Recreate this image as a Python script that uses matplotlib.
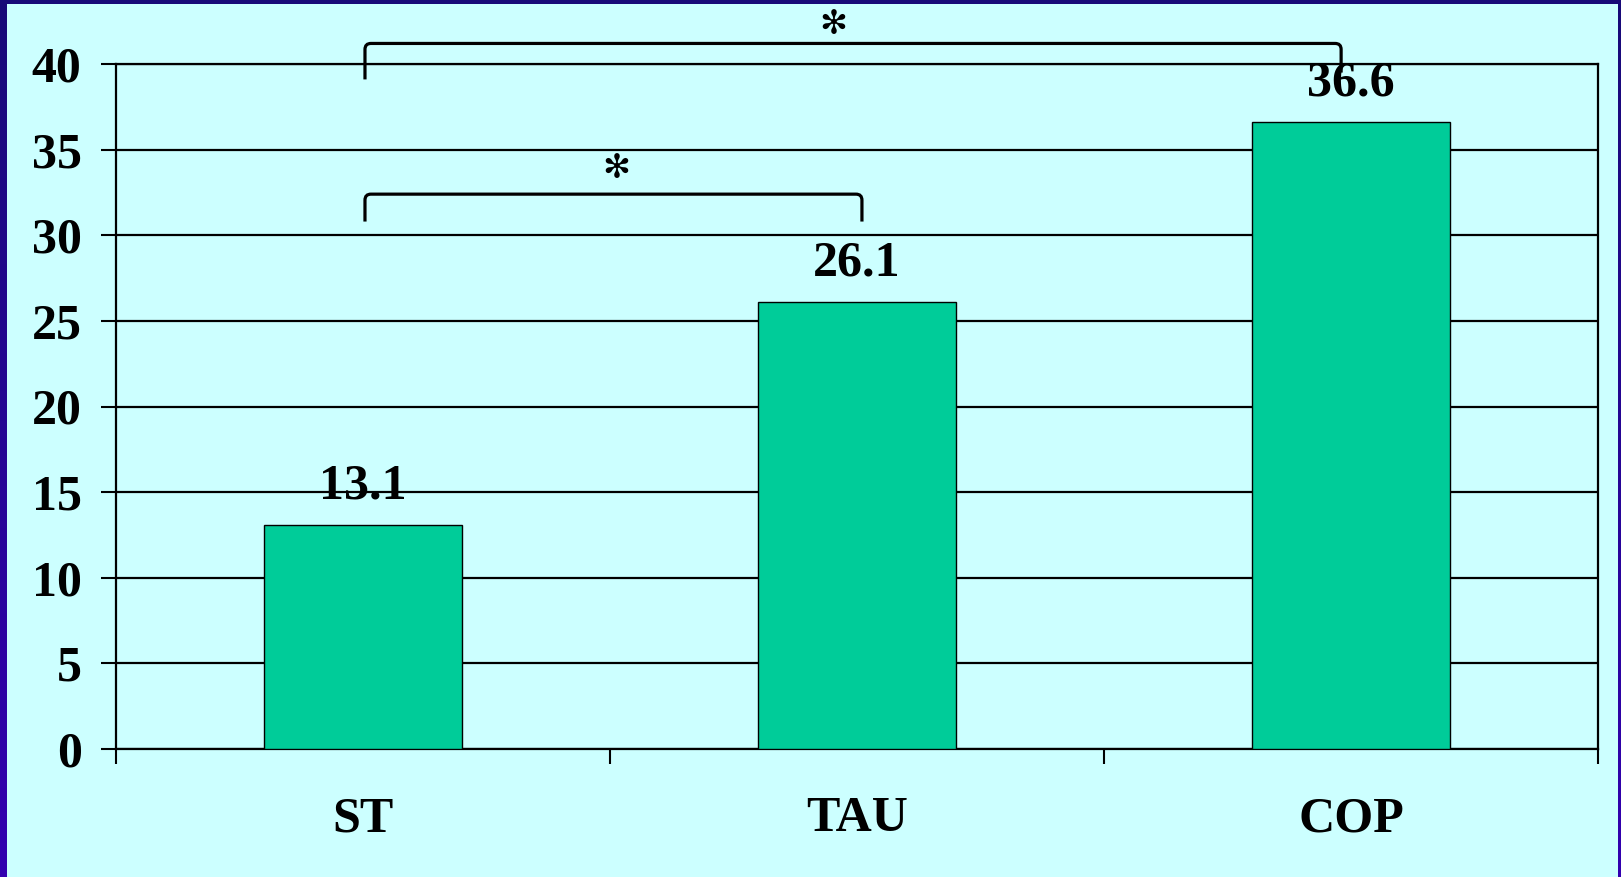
import numpy as np
import matplotlib
matplotlib.use('Agg')
import matplotlib.pyplot as plt
from matplotlib.patches import Rectangle, PathPatch
from matplotlib.path import Path

groups = ['ST', 'TAU', 'COP']
values = [13.1, 26.1, 36.6]
y_ticks = [0, 5, 10, 15, 20, 25, 30, 35, 40]

# significance brackets: (left group, right group, top y, left leg end, right leg end)
brackets = [
    (0.004, 1.01, 32.4, 30.8, 30.8),
    (0.004, 1.98, 41.2, 39.1, 39.5),
]
star_pos = [(0.512, 33.9), (0.951, 42.3)]

BAR = '#00cc99'
BG = '#ccffff'
FONT = 'Liberation Serif'

W, H = 1621, 877
fig = plt.figure(figsize=(W / 100, H / 100), dpi=100)

# dark blue slide frame with a vertical gradient
bg_ax = fig.add_axes([0, 0, 1, 1], zorder=-10)
grad = np.linspace(0, 1, 256)[:, None]
cmap = matplotlib.colors.LinearSegmentedColormap.from_list('frame', ['#180a78', '#3300b0'])
bg_ax.imshow(grad, aspect='auto', cmap=cmap, extent=[0, 1, 0, 1])
bg_ax.set_axis_off()
bg_ax.add_patch(Rectangle((7 / W, 0), (1618 - 7) / W, (H - 4) / H,
                          transform=bg_ax.transAxes, facecolor=BG, edgecolor='none'))

ax = fig.add_axes([116 / W, 1 - 749 / H, (1598 - 116) / W, (749 - 64) / H])
ax.set_facecolor(BG)

x = np.arange(len(groups))
ax.bar(x, values, width=0.4, color=BAR, edgecolor='black', linewidth=1.0, zorder=3)

for xi, v in zip(x, values):
    ax.annotate(f'{v}', (xi, v), xytext=(0, 19), textcoords='offset points',
                ha='center', va='baseline', fontsize=36, fontweight='bold',
                family=FONT, zorder=5)

ax.set_xlim(-0.5, 2.5)
ax.set_ylim(0, 40)
ax.set_yticks(y_ticks)
ax.yaxis.grid(True, color='black', linewidth=1.6, zorder=1)
ax.set_axisbelow(True)

ax.set_xticks(x)
ax.set_xticklabels(groups)
ax.set_xticks([-0.5, 0.5, 1.5, 2.5], minor=True)
ax.tick_params(axis='x', which='major', length=0, pad=34)
ax.tick_params(axis='x', which='minor', length=10.8, width=1.5, direction='out')
ax.tick_params(axis='y', length=10.8, width=1.5, direction='out', pad=14)
for lab in ax.get_xticklabels() + ax.get_yticklabels():
    lab.set_fontsize(36)
    lab.set_fontweight('bold')
    lab.set_family(FONT)

for sp in ax.spines.values():
    sp.set_linewidth(1.6)
    sp.set_color('black')

# brackets with rounded corners
rx, ry = 0.012, 0.35
for x0, x1, top, l0, l1 in brackets:
    verts = [(x0, l0), (x0, top - ry), (x0, top), (x0 + rx, top),
             (x1 - rx, top), (x1, top), (x1, top - ry), (x1, l1)]
    codes = [Path.MOVETO, Path.LINETO, Path.CURVE3, Path.CURVE3,
             Path.LINETO, Path.CURVE3, Path.CURVE3, Path.LINETO]
    ax.add_patch(PathPatch(Path(verts, codes), facecolor='none', edgecolor='black',
                           linewidth=2.3, clip_on=False, zorder=4))

for sx, sy in star_pos:
    ax.text(sx, sy, '\u273b', ha='center', va='center', fontsize=24,
            family='DejaVu Sans', clip_on=False, zorder=5)

fig.savefig('out.png', dpi=100, facecolor=fig.get_facecolor())
